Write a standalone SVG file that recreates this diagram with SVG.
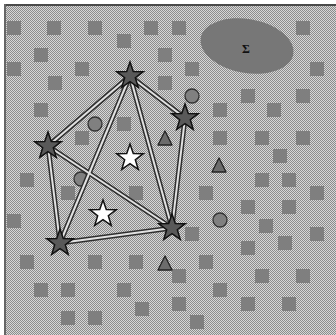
<svg xmlns="http://www.w3.org/2000/svg" xmlns:xlink="http://www.w3.org/1999/xlink" width="336" height="335" viewBox="0 0 336 335">
<style>
.sq{fill:#7f7f7f}
.cir{fill:#808080;stroke:#333;stroke-width:1.3}
.tri{fill:#6c6c6c;stroke:#222;stroke-width:1.3;stroke-linejoin:round}
.edge-o{stroke:#2e2e2e;stroke-width:5;fill:none;stroke-linecap:butt}
.edge-i{stroke:#e2e2e2;stroke-width:2;fill:none;stroke-linecap:butt}
.sd{fill:#595959;stroke:#111;stroke-width:1.5;stroke-linejoin:miter}
.sw{fill:#ffffff;stroke:#111;stroke-width:1.5;stroke-linejoin:miter}
.lbl{font-family:"Liberation Serif",serif;font-size:12px;font-weight:bold;fill:#111;text-anchor:middle}
</style>
<defs>
<pattern id="dots" width="2" height="2" patternUnits="userSpaceOnUse">
<rect width="2" height="2" fill="#d6d6d6"/>
<rect x="0" y="0" width="1" height="1" fill="#8c8c8c"/>
<rect x="1" y="1" width="1" height="1" fill="#8c8c8c"/>
</pattern>
<polygon id="star" points="0,-14 3.29,-4.53 13.31,-4.33 5.33,1.73 8.23,11.33 0,5.6 -8.23,11.33 -5.33,1.73 -13.31,-4.33 -3.29,-4.53"/>
<rect id="s" width="14" height="14"/>
</defs>
<rect width="336" height="335" fill="#ffffff"/>
<rect x="5" y="6" width="331" height="329" fill="url(#dots)"/>
<line x1="4" y1="5" x2="336" y2="5" stroke="#4a4a4a" stroke-width="2"/>
<line x1="5" y1="4" x2="5" y2="335" stroke="#666" stroke-width="2"/>
<g id="squares" class="sq">
<use xlink:href="#s" x="7" y="21"/><use xlink:href="#s" x="47" y="21"/><use xlink:href="#s" x="88" y="21"/><use xlink:href="#s" x="144" y="21"/><use xlink:href="#s" x="172" y="21"/><use xlink:href="#s" x="296" y="21"/>
<use xlink:href="#s" x="117" y="34"/>
<use xlink:href="#s" x="34" y="48"/><use xlink:href="#s" x="158" y="48"/>
<use xlink:href="#s" x="7" y="62"/><use xlink:href="#s" x="75" y="62"/><use xlink:href="#s" x="185" y="62"/><use xlink:href="#s" x="310" y="62"/>
<use xlink:href="#s" x="48" y="76"/><use xlink:href="#s" x="158" y="76"/>
<use xlink:href="#s" x="241" y="89"/><use xlink:href="#s" x="296" y="89"/>
<use xlink:href="#s" x="34" y="103"/><use xlink:href="#s" x="213" y="103"/><use xlink:href="#s" x="267" y="103"/>
<use xlink:href="#s" x="117" y="117"/>
<use xlink:href="#s" x="75" y="131"/><use xlink:href="#s" x="213" y="131"/><use xlink:href="#s" x="255" y="131"/><use xlink:href="#s" x="296" y="131"/>
<use xlink:href="#s" x="273" y="149"/>
<use xlink:href="#s" x="20" y="173"/><use xlink:href="#s" x="255" y="173"/><use xlink:href="#s" x="282" y="173"/>
<use xlink:href="#s" x="61" y="186"/><use xlink:href="#s" x="129" y="186"/><use xlink:href="#s" x="199" y="186"/><use xlink:href="#s" x="310" y="186"/>
<use xlink:href="#s" x="241" y="200"/><use xlink:href="#s" x="282" y="200"/>
<use xlink:href="#s" x="7" y="214"/><use xlink:href="#s" x="259" y="219"/>
<use xlink:href="#s" x="185" y="227"/><use xlink:href="#s" x="310" y="227"/>
<use xlink:href="#s" x="278" y="236"/><use xlink:href="#s" x="241" y="241"/>
<use xlink:href="#s" x="20" y="255"/><use xlink:href="#s" x="88" y="255"/><use xlink:href="#s" x="129" y="255"/><use xlink:href="#s" x="199" y="255"/>
<use xlink:href="#s" x="172" y="269"/><use xlink:href="#s" x="255" y="269"/><use xlink:href="#s" x="296" y="269"/>
<use xlink:href="#s" x="34" y="283"/><use xlink:href="#s" x="61" y="283"/><use xlink:href="#s" x="117" y="283"/><use xlink:href="#s" x="213" y="283"/>
<use xlink:href="#s" x="172" y="297"/><use xlink:href="#s" x="241" y="297"/><use xlink:href="#s" x="282" y="297"/>
<use xlink:href="#s" x="135" y="302"/>
<use xlink:href="#s" x="61" y="311"/><use xlink:href="#s" x="88" y="311"/>
<use xlink:href="#s" x="190" y="315"/>
</g>
<g id="sigma">
<ellipse cx="247" cy="46" rx="47" ry="27" fill="#777" transform="rotate(10 247 46)"/>
<text class="lbl" x="246" y="53">Σ</text>
</g>
<g id="circle1"><circle class="cir" cx="95" cy="124" r="7"/></g>
<g id="circle2"><circle class="cir" cx="192" cy="96" r="7"/></g>
<g id="circle3"><circle class="cir" cx="81" cy="179" r="7"/></g>
<g id="circle4"><circle class="cir" cx="220" cy="220" r="7"/></g>
<g id="tri1"><polygon class="tri" points="165,131 172,145 158,145"/></g>
<g id="tri2"><polygon class="tri" points="219,158 226,172 212,172"/></g>
<g id="tri3"><polygon class="tri" points="165,256 172,270 158,270"/></g>
<g id="connectors">
<g class="edge-o">
<line x1="130" y1="76" x2="185" y2="118"/>
<line x1="130" y1="76" x2="48" y2="146"/>
<line x1="130" y1="76" x2="60" y2="243"/>
<line x1="130" y1="76" x2="172" y2="228"/>
<line x1="185" y1="118" x2="172" y2="228"/>
<line x1="48" y1="146" x2="60" y2="243"/>
<line x1="48" y1="146" x2="172" y2="228"/>
<line x1="60" y1="243" x2="172" y2="228"/>
</g>
<g class="edge-i">
<line x1="130" y1="76" x2="185" y2="118"/>
<line x1="130" y1="76" x2="48" y2="146"/>
<line x1="130" y1="76" x2="60" y2="243"/>
<line x1="130" y1="76" x2="172" y2="228"/>
<line x1="185" y1="118" x2="172" y2="228"/>
<line x1="48" y1="146" x2="60" y2="243"/>
<line x1="48" y1="146" x2="172" y2="228"/>
<line x1="60" y1="243" x2="172" y2="228"/>
</g>
</g>
<g id="starA"><use xlink:href="#star" class="sd" x="130" y="76"/></g>
<g id="starB"><use xlink:href="#star" class="sd" x="185" y="118"/></g>
<g id="starC"><use xlink:href="#star" class="sd" x="48" y="146"/></g>
<g id="starD"><use xlink:href="#star" class="sd" x="60" y="243"/></g>
<g id="starE"><use xlink:href="#star" class="sd" x="172" y="228"/></g>
<g id="starW1"><use xlink:href="#star" class="sw" x="130" y="158"/></g>
<g id="starW2"><use xlink:href="#star" class="sw" x="103" y="214"/></g>
</svg>
